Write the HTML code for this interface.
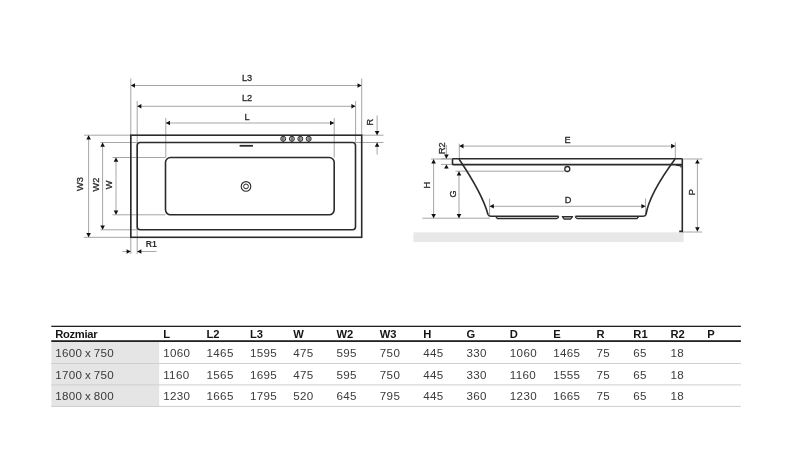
<!DOCTYPE html>
<html><head><meta charset="utf-8"><style>
html,body{margin:0;padding:0;background:#fff;width:800px;height:461px;overflow:hidden}
svg{position:absolute;left:0;top:0;will-change:transform;font-family:"Liberation Sans",sans-serif}
</style></head><body>
<svg width="800" height="461" viewBox="0 0 800 461">
<line x1="130.8" y1="78.5" x2="130.8" y2="254" stroke="#a6a6a6" stroke-width="1"/>
<line x1="137.2" y1="101" x2="137.2" y2="254" stroke="#a6a6a6" stroke-width="1"/>
<line x1="165.8" y1="118" x2="165.8" y2="157.5" stroke="#a6a6a6" stroke-width="1"/>
<line x1="334.2" y1="118" x2="334.2" y2="157.5" stroke="#a6a6a6" stroke-width="1"/>
<line x1="355.6" y1="101" x2="355.6" y2="142.5" stroke="#a6a6a6" stroke-width="1"/>
<line x1="361.7" y1="78.5" x2="361.7" y2="135.2" stroke="#a6a6a6" stroke-width="1"/>
<line x1="130.8" y1="85.5" x2="361.7" y2="85.5" stroke="#a6a6a6" stroke-width="1"/>
<polygon points="130.80,85.50 135.00,83.20 135.00,87.80" fill="#111"/>
<polygon points="361.70,85.50 357.50,83.20 357.50,87.80" fill="#111"/>
<text x="247" y="80.8" font-size="9.2" text-anchor="middle" font-weight="normal" fill="#2a2a2a" stroke="#2a2a2a" stroke-width="0.3">L3</text>
<line x1="137.2" y1="106.3" x2="355.6" y2="106.3" stroke="#a6a6a6" stroke-width="1"/>
<polygon points="137.20,106.30 141.40,104.00 141.40,108.60" fill="#111"/>
<polygon points="355.60,106.30 351.40,104.00 351.40,108.60" fill="#111"/>
<text x="247" y="101.3" font-size="9.2" text-anchor="middle" font-weight="normal" fill="#2a2a2a" stroke="#2a2a2a" stroke-width="0.3">L2</text>
<line x1="165.8" y1="123" x2="334.2" y2="123" stroke="#a6a6a6" stroke-width="1"/>
<polygon points="165.80,123.00 170.00,120.70 170.00,125.30" fill="#111"/>
<polygon points="334.20,123.00 330.00,120.70 330.00,125.30" fill="#111"/>
<text x="247" y="120" font-size="9.2" text-anchor="middle" font-weight="normal" fill="#2a2a2a" stroke="#2a2a2a" stroke-width="0.3">L</text>
<line x1="84" y1="135.2" x2="130.8" y2="135.2" stroke="#a6a6a6" stroke-width="1"/>
<line x1="84" y1="237.3" x2="130.8" y2="237.3" stroke="#a6a6a6" stroke-width="1"/>
<line x1="100.4" y1="142.5" x2="137.2" y2="142.5" stroke="#a6a6a6" stroke-width="1"/>
<line x1="100.4" y1="229.8" x2="137.2" y2="229.8" stroke="#a6a6a6" stroke-width="1"/>
<line x1="112.5" y1="157.5" x2="165.5" y2="157.5" stroke="#a6a6a6" stroke-width="1"/>
<line x1="112.5" y1="214.8" x2="165.5" y2="214.8" stroke="#a6a6a6" stroke-width="1"/>
<line x1="88.6" y1="135.2" x2="88.6" y2="237.3" stroke="#a6a6a6" stroke-width="1"/>
<polygon points="88.60,135.20 86.30,139.40 90.90,139.40" fill="#111"/>
<polygon points="88.60,237.30 86.30,233.10 90.90,233.10" fill="#111"/>
<text x="0" y="0" transform="translate(83.4,184) rotate(-90)" font-size="9.2" text-anchor="middle" font-weight="normal" fill="#2a2a2a" stroke="#2a2a2a" stroke-width="0.3">W3</text>
<line x1="102.6" y1="142.5" x2="102.6" y2="229.8" stroke="#a6a6a6" stroke-width="1"/>
<polygon points="102.60,142.50 100.30,146.70 104.90,146.70" fill="#111"/>
<polygon points="102.60,229.80 100.30,225.60 104.90,225.60" fill="#111"/>
<text x="0" y="0" transform="translate(98.6,184.5) rotate(-90)" font-size="9.2" text-anchor="middle" font-weight="normal" fill="#2a2a2a" stroke="#2a2a2a" stroke-width="0.3">W2</text>
<line x1="116" y1="157.5" x2="116" y2="214.8" stroke="#a6a6a6" stroke-width="1"/>
<polygon points="116.00,157.50 113.70,161.70 118.30,161.70" fill="#111"/>
<polygon points="116.00,214.80 113.70,210.60 118.30,210.60" fill="#111"/>
<text x="0" y="0" transform="translate(112.4,184.8) rotate(-90)" font-size="9.2" text-anchor="middle" font-weight="normal" fill="#2a2a2a" stroke="#2a2a2a" stroke-width="0.3">W</text>
<line x1="361.7" y1="135.2" x2="383.5" y2="135.2" stroke="#a6a6a6" stroke-width="1"/>
<line x1="355.5" y1="142.5" x2="383.5" y2="142.5" stroke="#a6a6a6" stroke-width="1"/>
<line x1="377.1" y1="115.4" x2="377.1" y2="135.2" stroke="#a6a6a6" stroke-width="1"/>
<polygon points="377.10,135.20 374.80,131.00 379.40,131.00" fill="#111"/>
<line x1="377.1" y1="142.5" x2="377.1" y2="154.5" stroke="#a6a6a6" stroke-width="1"/>
<polygon points="377.10,142.50 374.80,146.70 379.40,146.70" fill="#111"/>
<text x="0" y="0" transform="translate(372.5,122.3) rotate(-90)" font-size="9.2" text-anchor="middle" font-weight="normal" fill="#2a2a2a" stroke="#2a2a2a" stroke-width="0.3">R</text>
<line x1="122.4" y1="251.5" x2="130.8" y2="251.5" stroke="#a6a6a6" stroke-width="1"/>
<polygon points="130.80,251.50 126.60,249.20 126.60,253.80" fill="#111"/>
<line x1="137.2" y1="251.5" x2="156.5" y2="251.5" stroke="#a6a6a6" stroke-width="1"/>
<polygon points="137.20,251.50 141.40,249.20 141.40,253.80" fill="#111"/>
<text x="151.4" y="247.2" font-size="8.7" text-anchor="middle" font-weight="bold" fill="#2a2a2a" stroke="#2a2a2a" stroke-width="0">R1</text>
<rect x="130.8" y="135.2" width="230.9" height="102.1" fill="none" stroke="#2b2b2b" stroke-width="1.6"/>
<rect x="137.2" y="142.5" width="218.3" height="87.3" rx="3" fill="none" stroke="#2b2b2b" stroke-width="1.6"/>
<rect x="165.5" y="157.5" width="168.7" height="57.3" rx="5" fill="none" stroke="#2b2b2b" stroke-width="1.6"/>
<circle cx="246" cy="186.4" r="4.8" fill="none" stroke="#2b2b2b" stroke-width="1.1"/>
<circle cx="246" cy="186.4" r="2.4" fill="none" stroke="#2b2b2b" stroke-width="1"/>
<line x1="239.6" y1="145.8" x2="253" y2="145.8" stroke="#2b2b2b" stroke-width="1.8"/>
<circle cx="283.2" cy="138.8" r="2.5" fill="#b8b8b8" stroke="#2b2b2b" stroke-width="1"/>
<rect x="282.30" y="137.3" width="0.6" height="3" fill="#444"/>
<rect x="283.50" y="137.3" width="0.6" height="3" fill="#444"/>
<rect x="282.60" y="135.5" width="1.2" height="1" fill="#2b2b2b"/>
<rect x="282.60" y="141.2" width="1.2" height="1" fill="#2b2b2b"/>
<circle cx="291.9" cy="138.8" r="2.5" fill="#b8b8b8" stroke="#2b2b2b" stroke-width="1"/>
<rect x="291.00" y="137.3" width="0.6" height="3" fill="#444"/>
<rect x="292.20" y="137.3" width="0.6" height="3" fill="#444"/>
<rect x="291.30" y="135.5" width="1.2" height="1" fill="#2b2b2b"/>
<rect x="291.30" y="141.2" width="1.2" height="1" fill="#2b2b2b"/>
<circle cx="300.3" cy="138.8" r="2.5" fill="#b8b8b8" stroke="#2b2b2b" stroke-width="1"/>
<rect x="299.40" y="137.3" width="0.6" height="3" fill="#444"/>
<rect x="300.60" y="137.3" width="0.6" height="3" fill="#444"/>
<rect x="299.70" y="135.5" width="1.2" height="1" fill="#2b2b2b"/>
<rect x="299.70" y="141.2" width="1.2" height="1" fill="#2b2b2b"/>
<circle cx="308.7" cy="138.8" r="2.5" fill="#b8b8b8" stroke="#2b2b2b" stroke-width="1"/>
<rect x="307.80" y="137.3" width="0.6" height="3" fill="#444"/>
<rect x="309.00" y="137.3" width="0.6" height="3" fill="#444"/>
<rect x="308.10" y="135.5" width="1.2" height="1" fill="#2b2b2b"/>
<rect x="308.10" y="141.2" width="1.2" height="1" fill="#2b2b2b"/>
<rect x="413.4" y="232.3" width="270.2" height="9.8" fill="#e8e8e8"/>
<line x1="459.3" y1="143.7" x2="459.3" y2="158.8" stroke="#a6a6a6" stroke-width="1"/>
<line x1="675.3" y1="142.2" x2="675.3" y2="159" stroke="#a6a6a6" stroke-width="1"/>
<line x1="459.3" y1="146.1" x2="675.3" y2="146.1" stroke="#a6a6a6" stroke-width="1"/>
<polygon points="459.30,146.10 463.50,143.80 463.50,148.40" fill="#111"/>
<polygon points="675.30,146.10 671.10,143.80 671.10,148.40" fill="#111"/>
<text x="567.5" y="143" font-size="9.2" text-anchor="middle" font-weight="normal" fill="#2a2a2a" stroke="#2a2a2a" stroke-width="0.3">E</text>
<line x1="489.6" y1="198.6" x2="489.6" y2="216" stroke="#a6a6a6" stroke-width="1"/>
<line x1="645.6" y1="198.5" x2="645.6" y2="216" stroke="#a6a6a6" stroke-width="1"/>
<line x1="489.6" y1="206.3" x2="645.6" y2="206.3" stroke="#a6a6a6" stroke-width="1"/>
<polygon points="489.60,206.30 493.80,204.00 493.80,208.60" fill="#111"/>
<polygon points="645.60,206.30 641.40,204.00 641.40,208.60" fill="#111"/>
<text x="568" y="202.9" font-size="9.2" text-anchor="middle" font-weight="normal" fill="#2a2a2a" stroke="#2a2a2a" stroke-width="0.3">D</text>
<line x1="431" y1="159" x2="452.5" y2="159" stroke="#a6a6a6" stroke-width="1"/>
<line x1="422.4" y1="218.2" x2="490" y2="218.2" stroke="#a6a6a6" stroke-width="1"/>
<line x1="433.6" y1="159.2" x2="433.6" y2="218.2" stroke="#a6a6a6" stroke-width="1"/>
<polygon points="433.60,159.20 431.30,163.40 435.90,163.40" fill="#111"/>
<polygon points="433.60,218.20 431.30,214.00 435.90,214.00" fill="#111"/>
<text x="0" y="0" transform="translate(429.7,185.2) rotate(-90)" font-size="9.2" text-anchor="middle" font-weight="normal" fill="#2a2a2a" stroke="#2a2a2a" stroke-width="0.3">H</text>
<line x1="455.5" y1="171.2" x2="564.7" y2="171.2" stroke="#a6a6a6" stroke-width="1"/>
<line x1="459" y1="171.3" x2="459" y2="218.2" stroke="#a6a6a6" stroke-width="1"/>
<polygon points="459.00,171.30 456.70,175.50 461.30,175.50" fill="#111"/>
<polygon points="459.00,218.20 456.70,214.00 461.30,214.00" fill="#111"/>
<text x="0" y="0" transform="translate(456.3,193.8) rotate(-90)" font-size="9.2" text-anchor="middle" font-weight="normal" fill="#2a2a2a" stroke="#2a2a2a" stroke-width="0.3">G</text>
<line x1="441" y1="158.8" x2="452.5" y2="158.8" stroke="#a6a6a6" stroke-width="1"/>
<line x1="441" y1="164.4" x2="452.5" y2="164.4" stroke="#a6a6a6" stroke-width="1"/>
<line x1="446.4" y1="145" x2="446.4" y2="158.8" stroke="#a6a6a6" stroke-width="1"/>
<polygon points="446.40,158.80 444.10,154.60 448.70,154.60" fill="#111"/>
<line x1="446.4" y1="164.4" x2="446.4" y2="168.7" stroke="#a6a6a6" stroke-width="1"/>
<polygon points="446.40,164.40 444.10,168.60 448.70,168.60" fill="#111"/>
<text x="0" y="0" transform="translate(445.2,148.2) rotate(-90)" font-size="9.2" text-anchor="middle" font-weight="normal" fill="#2a2a2a" stroke="#2a2a2a" stroke-width="0.3">R2</text>
<line x1="682" y1="159" x2="702.4" y2="159" stroke="#a6a6a6" stroke-width="1"/>
<line x1="682" y1="232" x2="702.2" y2="232" stroke="#a6a6a6" stroke-width="1"/>
<line x1="697.4" y1="159.4" x2="697.4" y2="231.4" stroke="#a6a6a6" stroke-width="1"/>
<polygon points="697.40,159.40 695.10,163.60 699.70,163.60" fill="#111"/>
<polygon points="697.40,231.40 695.10,227.20 699.70,227.20" fill="#111"/>
<text x="0" y="0" transform="translate(695.3,192.3) rotate(-90)" font-size="9.2" text-anchor="middle" font-weight="normal" fill="#2a2a2a" stroke="#2a2a2a" stroke-width="0.3">P</text>
<rect x="452.5" y="158.8" width="229.8" height="5.8" rx="0.8" fill="none" stroke="#2b2b2b" stroke-width="1.6"/>
<path d="M459,159 Q482.5,194 488,214.5 Q488.8,216.3 491,216.3 L558.6,216.3 M575.4,216.3 L643,216.3 Q645.2,216.3 646,214.5 Q649.25,194 675.1,159" fill="none" stroke="#2b2b2b" stroke-width="1.6"/>
<polygon points="562.3,216.6 564.2,219.1 570.6,219.1 572.6,216.6" fill="#b5b5b5" stroke="#2b2b2b" stroke-width="1.2" stroke-linejoin="round"/>
<path d="M495.8,216.6 L497.4,218.5 L556.5,218.5 Q558,218.5 558.8,216.6 M575.2,216.6 Q576,218.5 577.5,218.5 L637,218.5 L638.6,216.6" fill="none" stroke="#2b2b2b" stroke-width="1.3"/>
<circle cx="567.3" cy="169" r="2.5" fill="none" stroke="#2b2b2b" stroke-width="1.3"/>
<path d="M682.3,164.6 L682.3,231.4 L679.2,231.4" fill="none" stroke="#2b2b2b" stroke-width="1.6"/>
<path d="M676,165.2 L681,165.8 L681,167.5" fill="none" stroke="#2b2b2b" stroke-width="1.2"/>
<rect x="51.3" y="342" width="107.9" height="64.5" fill="#e5e5e5"/><rect x="51.3" y="325.7" width="689.6" height="1.3" fill="#222"/><rect x="51.3" y="340.2" width="689.6" height="1.8" fill="#222"/><rect x="51.3" y="363.0" width="689.6" height="1" fill="#cfcfcf"/><rect x="51.3" y="384.4" width="689.6" height="1" fill="#cfcfcf"/><rect x="51.3" y="405.9" width="689.6" height="1" fill="#cfcfcf"/><text x="55.2" y="338" font-size="11.2" font-weight="700" letter-spacing="-0.3" fill="#151515">Rozmiar</text><text x="163.2" y="338" font-size="11.2" font-weight="700" fill="#151515">L</text><text x="206.5" y="338" font-size="11.2" font-weight="700" fill="#151515">L2</text><text x="249.9" y="338" font-size="11.2" font-weight="700" fill="#151515">L3</text><text x="293.2" y="338" font-size="11.2" font-weight="700" fill="#151515">W</text><text x="336.5" y="338" font-size="11.2" font-weight="700" fill="#151515">W2</text><text x="379.8" y="338" font-size="11.2" font-weight="700" fill="#151515">W3</text><text x="423.2" y="338" font-size="11.2" font-weight="700" fill="#151515">H</text><text x="466.5" y="338" font-size="11.2" font-weight="700" fill="#151515">G</text><text x="509.8" y="338" font-size="11.2" font-weight="700" fill="#151515">D</text><text x="553.2" y="338" font-size="11.2" font-weight="700" fill="#151515">E</text><text x="596.5" y="338" font-size="11.2" font-weight="700" fill="#151515">R</text><text x="633.3" y="338" font-size="11.2" font-weight="700" fill="#151515">R1</text><text x="670.5" y="338" font-size="11.2" font-weight="700" fill="#151515">R2</text><text x="707.3" y="338" font-size="11.2" font-weight="700" fill="#151515">P</text><text x="55.2" y="357.2" font-size="11.6" letter-spacing="0.35" word-spacing="-1" fill="#3a3a3a">1600 x 750</text><text x="163.2" y="357.2" font-size="11.6" letter-spacing="0.35" word-spacing="-1" fill="#3a3a3a">1060</text><text x="206.5" y="357.2" font-size="11.6" letter-spacing="0.35" word-spacing="-1" fill="#3a3a3a">1465</text><text x="249.9" y="357.2" font-size="11.6" letter-spacing="0.35" word-spacing="-1" fill="#3a3a3a">1595</text><text x="293.2" y="357.2" font-size="11.6" letter-spacing="0.35" word-spacing="-1" fill="#3a3a3a">475</text><text x="336.5" y="357.2" font-size="11.6" letter-spacing="0.35" word-spacing="-1" fill="#3a3a3a">595</text><text x="379.8" y="357.2" font-size="11.6" letter-spacing="0.35" word-spacing="-1" fill="#3a3a3a">750</text><text x="423.2" y="357.2" font-size="11.6" letter-spacing="0.35" word-spacing="-1" fill="#3a3a3a">445</text><text x="466.5" y="357.2" font-size="11.6" letter-spacing="0.35" word-spacing="-1" fill="#3a3a3a">330</text><text x="509.8" y="357.2" font-size="11.6" letter-spacing="0.35" word-spacing="-1" fill="#3a3a3a">1060</text><text x="553.2" y="357.2" font-size="11.6" letter-spacing="0.35" word-spacing="-1" fill="#3a3a3a">1465</text><text x="596.5" y="357.2" font-size="11.6" letter-spacing="0.35" word-spacing="-1" fill="#3a3a3a">75</text><text x="633.3" y="357.2" font-size="11.6" letter-spacing="0.35" word-spacing="-1" fill="#3a3a3a">65</text><text x="670.5" y="357.2" font-size="11.6" letter-spacing="0.35" word-spacing="-1" fill="#3a3a3a">18</text><text x="55.2" y="378.7" font-size="11.6" letter-spacing="0.35" word-spacing="-1" fill="#3a3a3a">1700 x 750</text><text x="163.2" y="378.7" font-size="11.6" letter-spacing="0.35" word-spacing="-1" fill="#3a3a3a">1160</text><text x="206.5" y="378.7" font-size="11.6" letter-spacing="0.35" word-spacing="-1" fill="#3a3a3a">1565</text><text x="249.9" y="378.7" font-size="11.6" letter-spacing="0.35" word-spacing="-1" fill="#3a3a3a">1695</text><text x="293.2" y="378.7" font-size="11.6" letter-spacing="0.35" word-spacing="-1" fill="#3a3a3a">475</text><text x="336.5" y="378.7" font-size="11.6" letter-spacing="0.35" word-spacing="-1" fill="#3a3a3a">595</text><text x="379.8" y="378.7" font-size="11.6" letter-spacing="0.35" word-spacing="-1" fill="#3a3a3a">750</text><text x="423.2" y="378.7" font-size="11.6" letter-spacing="0.35" word-spacing="-1" fill="#3a3a3a">445</text><text x="466.5" y="378.7" font-size="11.6" letter-spacing="0.35" word-spacing="-1" fill="#3a3a3a">330</text><text x="509.8" y="378.7" font-size="11.6" letter-spacing="0.35" word-spacing="-1" fill="#3a3a3a">1160</text><text x="553.2" y="378.7" font-size="11.6" letter-spacing="0.35" word-spacing="-1" fill="#3a3a3a">1555</text><text x="596.5" y="378.7" font-size="11.6" letter-spacing="0.35" word-spacing="-1" fill="#3a3a3a">75</text><text x="633.3" y="378.7" font-size="11.6" letter-spacing="0.35" word-spacing="-1" fill="#3a3a3a">65</text><text x="670.5" y="378.7" font-size="11.6" letter-spacing="0.35" word-spacing="-1" fill="#3a3a3a">18</text><text x="55.2" y="400.1" font-size="11.6" letter-spacing="0.35" word-spacing="-1" fill="#3a3a3a">1800 x 800</text><text x="163.2" y="400.1" font-size="11.6" letter-spacing="0.35" word-spacing="-1" fill="#3a3a3a">1230</text><text x="206.5" y="400.1" font-size="11.6" letter-spacing="0.35" word-spacing="-1" fill="#3a3a3a">1665</text><text x="249.9" y="400.1" font-size="11.6" letter-spacing="0.35" word-spacing="-1" fill="#3a3a3a">1795</text><text x="293.2" y="400.1" font-size="11.6" letter-spacing="0.35" word-spacing="-1" fill="#3a3a3a">520</text><text x="336.5" y="400.1" font-size="11.6" letter-spacing="0.35" word-spacing="-1" fill="#3a3a3a">645</text><text x="379.8" y="400.1" font-size="11.6" letter-spacing="0.35" word-spacing="-1" fill="#3a3a3a">795</text><text x="423.2" y="400.1" font-size="11.6" letter-spacing="0.35" word-spacing="-1" fill="#3a3a3a">445</text><text x="466.5" y="400.1" font-size="11.6" letter-spacing="0.35" word-spacing="-1" fill="#3a3a3a">360</text><text x="509.8" y="400.1" font-size="11.6" letter-spacing="0.35" word-spacing="-1" fill="#3a3a3a">1230</text><text x="553.2" y="400.1" font-size="11.6" letter-spacing="0.35" word-spacing="-1" fill="#3a3a3a">1665</text><text x="596.5" y="400.1" font-size="11.6" letter-spacing="0.35" word-spacing="-1" fill="#3a3a3a">75</text><text x="633.3" y="400.1" font-size="11.6" letter-spacing="0.35" word-spacing="-1" fill="#3a3a3a">65</text><text x="670.5" y="400.1" font-size="11.6" letter-spacing="0.35" word-spacing="-1" fill="#3a3a3a">18</text>
</svg>
</body></html>
